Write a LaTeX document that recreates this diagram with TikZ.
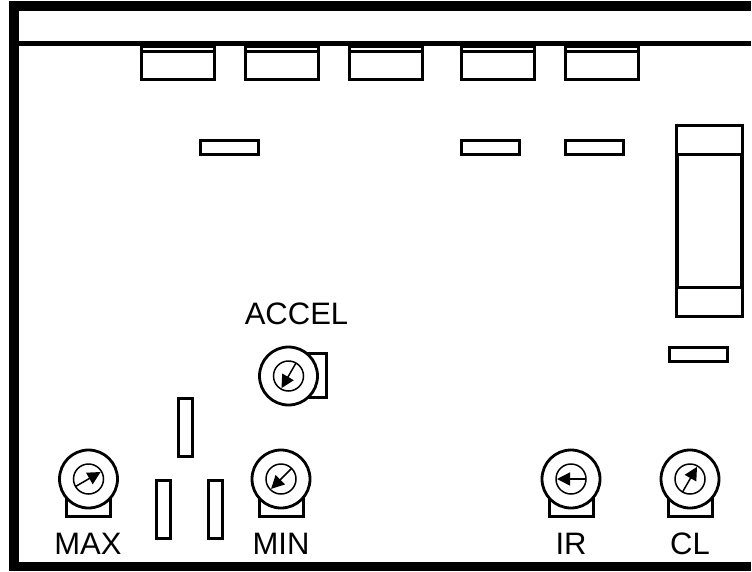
\documentclass[tikz,border=0pt]{standalone}
\usepackage{fontspec}
\setmainfont{Liberation Sans}
\usetikzlibrary{positioning}
\usetikzlibrary{calc}
\usetikzlibrary{arrows.meta}
\tikzset{>={Triangle[length=13pt,width=13pt]}}
\tikzset{box/.style={draw, line width=3pt, fill=white, minimum width=#1, inner sep=0pt, outer sep=0pt, anchor=north west}}
\tikzset{knob/.style={draw, circle, line width=2.8pt, minimum size=58pt, inner sep=0pt, outer sep=0pt, fill=white}}
\tikzset{dial/.style={draw, circle, line width=1.5pt, minimum size=30pt, inner sep=0pt, outer sep=0pt}}
\tikzset{tag/.style={font=\fontsize{31pt}{31pt}\selectfont, inner sep=0pt}}
\begin{document}
\begin{tikzpicture}[x=1pt, y=-1pt]
\useasboundingbox (0,0) rectangle (752,571);

% top connectors
\foreach \name/\xpos in {a/141.5, b/245.5, c/349.5, d/461.5, e/565.5} {
  \node[box=72.5pt, minimum height=33.5pt] (conn\name) at (\xpos,46) {};
  \draw[line width=3pt] ($(conn\name.north west)+(0,5.5)$) -- ($(conn\name.north east)+(0,5.5)$);
}

% outer frame
\fill (9,1) rectangle (751,11);
\fill (9,1) rectangle (19,571);
\fill (9,562) rectangle (751,571);
\fill (19,41) rectangle (751,46);

% small parts
\node[box=58pt, minimum height=13.5pt] (parta) at (200.5,140.5) {};
\node[box=57.5pt, minimum height=13.5pt] (partb) at (461.5,140.5) {};
\node[box=57.5pt, minimum height=13.5pt] (partc) at (565.5,140.5) {};
\node[box=57.5pt, minimum height=13.5pt] (partd) at (669.5,347.5) {};
\node[box=13.5pt, minimum height=58pt] (parte) at (178.5,398.5) {};
\node[box=13.5pt, minimum height=57.5pt] (partf) at (156.5,480.5) {};
\node[box=13.5pt, minimum height=57.5pt] (partg) at (208.5,480.5) {};

% tall part on the right
\node[box=65.5pt, minimum height=190.5pt] (tall) at (676.5,125.5) {};
\coordinate (tla) at (677,154);
\coordinate (tra) at (741.5,154);
\coordinate (tlb) at (677,287);
\coordinate (trb) at (741.5,287);
\draw[line width=3pt] (tla) -- (tra);
\draw[line width=3pt] (tlb) -- (trb);
\draw[line width=4pt] (tla) -- (tlb);
\draw[line width=4pt] (tra) -- (trb);

% knobs
\foreach \name/\xpos/\ypos/\ang in {max/88.5/479/30, min/281/479/225, ir/571/479/180, cl/690/479/60} {
  \node[box=44pt, minimum height=37pt] (base\name) at (\xpos-22,\ypos) {};
  \node[knob] (\name) at (\xpos,\ypos) {};
  \node[dial] (dial\name) at (\name) {};
  \coordinate (tip\name) at ($(\name)+(\ang:14 and -14)$);
  \coordinate (tail\name) at ($(\name)+(\ang+180:15 and -15)$);
  \draw[->, line width=1.5pt] (tail\name) -- (tip\name);
}

\node[box=37pt, minimum height=44pt] (baseaccel) at (289,353.5) {};
\node[knob] (accel) at (288.5,376) {};
\node[dial] (dialaccel) at (accel) {};
\coordinate (tipaccel) at ($(accel)+(240:14 and -14)$);
\coordinate (tailaccel) at ($(accel)+(60:15 and -15)$);
\draw[->, line width=1.5pt] (tailaccel) -- (tipaccel);

% labels
\node[tag] (lmax) at (88,543.5) {MAX};
\node[tag] (lmin) at (281,543.5) {MIN};
\node[tag] (lir) at (571,543.5) {IR};
\node[tag] (lcl) at (690,543.5) {CL};
\node[tag] (laccel) at (296.5,314) {ACCEL};
\end{tikzpicture}
\end{document}
